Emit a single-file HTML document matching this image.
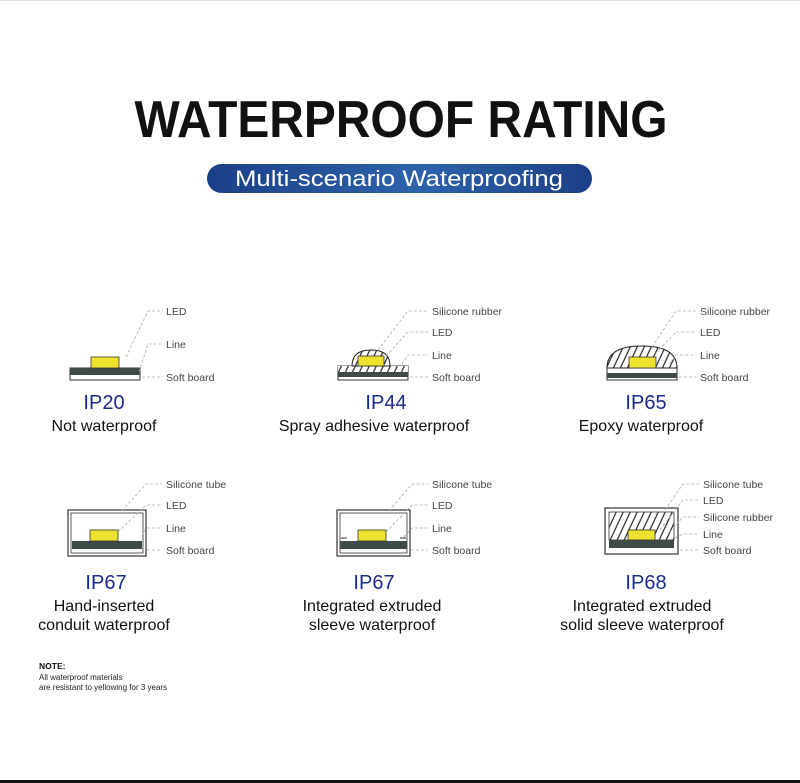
<!DOCTYPE html>
<html><head><meta charset="utf-8"><style>
html,body{margin:0;padding:0;background:#fff}
svg{display:block}
text{font-family:"Liberation Sans",sans-serif}
.l{font-size:10.5px;fill:#444}
.d{stroke:#aaa;stroke-width:0.8;stroke-dasharray:3,2;fill:none}
.ip{font-size:20px;fill:#1b2a8e;text-anchor:middle}
.ds{font-size:16px;fill:#111;text-anchor:middle}
</style></head><body>
<svg width="800" height="783" viewBox="0 0 800 783" xmlns="http://www.w3.org/2000/svg">
<defs>
<linearGradient id="g" x1="0" x2="1">
<stop offset="0" stop-color="#1c3f86"/><stop offset="0.55" stop-color="#2d63ab"/><stop offset="1" stop-color="#1c3f86"/>
</linearGradient>
<pattern id="h" width="7" height="14" patternUnits="userSpaceOnUse" patternTransform="skewX(-25)">
<rect width="7" height="14" fill="#fff"/><line x1="1" y1="0" x2="1" y2="14" stroke="#222" stroke-width="1.3"/>
</pattern>
</defs>
<line x1="0" y1="0.5" x2="800" y2="0.5" stroke="#ddd"/>
<rect x="0" y="780" width="800" height="3" fill="#111"/>
<text x="401" y="137" text-anchor="middle" font-size="52" font-weight="bold" fill="#111" textLength="533" lengthAdjust="spacingAndGlyphs">WATERPROOF RATING</text>
<rect x="207" y="164" width="385" height="29" rx="14.5" fill="url(#g)"/>
<text x="399" y="186" text-anchor="middle" font-size="22" fill="#fff" textLength="328" lengthAdjust="spacingAndGlyphs">Multi-scenario Waterproofing</text>

<!-- IP20 -->
<rect x="70" y="368" width="70" height="12" fill="#fff" stroke="#333"/>
<rect x="70" y="368" width="70" height="7" fill="#3f4b49"/>
<rect x="91" y="357" width="28" height="11" fill="#ede32e" stroke="#333" stroke-width="0.8"/>
<path class="d" d="M126 357 L148 311 L163 311 M139 372 L148 344 L163 344 M142 377 L163 377"/>
<text class="l" x="166" y="315">LED</text><text class="l" x="166" y="348">Line</text><text class="l" x="166" y="381">Soft board</text>
<text class="ip" x="104" y="409">IP20</text><text class="ds" x="104" y="431">Not waterproof</text>

<!-- IP44 -->
<rect x="338" y="366" width="70" height="14" fill="#fff" stroke="#333"/>
<rect x="338" y="366" width="70" height="6" fill="url(#h)"/>
<rect x="338" y="372" width="70" height="5" fill="#3f4b49"/>
<path d="M352 366 Q352 350 371 350 Q390 350 390 366 Z" fill="url(#h)" stroke="#222"/>
<rect x="358" y="356" width="26" height="10" fill="#ede32e" stroke="#333" stroke-width="0.8"/>
<path class="d" d="M378 350 L408 311 L428 311 M386 356 L408 332 L428 332 M402 364 L408 355 L428 355 M410 377 L428 377"/>
<text class="l" x="432" y="315">Silicone rubber</text><text class="l" x="432" y="336">LED</text><text class="l" x="432" y="359">Line</text><text class="l" x="432" y="381">Soft board</text>
<text class="ip" x="386" y="409">IP44</text><text class="ds" x="374" y="431">Spray adhesive waterproof</text>

<!-- IP65 -->
<rect x="607" y="368" width="70" height="12" fill="#fff" stroke="#333"/>
<rect x="607" y="373" width="70" height="5" fill="#3f4b49"/>
<path d="M607 368 Q607 346 642 346 Q677 346 677 368 Z" fill="url(#h)" stroke="#222"/>
<rect x="629" y="357" width="27" height="11" fill="#ede32e" stroke="#333" stroke-width="0.8"/>
<path class="d" d="M652 347 L676 311 L696 311 M652 357 L676 332 L696 332 M670 364 L676 355 L696 355 M679 377 L696 377"/>
<text class="l" x="700" y="315">Silicone rubber</text><text class="l" x="700" y="336">LED</text><text class="l" x="700" y="359">Line</text><text class="l" x="700" y="381">Soft board</text>
<text class="ip" x="646" y="409">IP65</text><text class="ds" x="641" y="431">Epoxy waterproof</text>

<!-- IP67 a -->
<rect x="68" y="510" width="78" height="46" fill="#fff" stroke="#333" stroke-width="1.2"/>
<rect x="71" y="513" width="72" height="40" fill="#fff" stroke="#333" stroke-width="0.8"/>
<rect x="72" y="541" width="70" height="8" fill="#3f4b49"/>
<rect x="90" y="530" width="28" height="11" fill="#ede32e" stroke="#333" stroke-width="0.8"/>
<path class="d" d="M122 511 L146 484 L162 484 M118 532 L146 505 L162 505 M142 536 L146 528 L162 528 M147 550 L162 550"/>
<text class="l" x="166" y="488">Silicone tube</text><text class="l" x="166" y="509">LED</text><text class="l" x="166" y="532">Line</text><text class="l" x="166" y="554">Soft board</text>
<text class="ip" x="106" y="589">IP67</text><text class="ds" x="104" y="611">Hand-inserted</text><text class="ds" x="104" y="630">conduit waterproof</text>

<!-- IP67 b -->
<rect x="337" y="510" width="73" height="46" fill="#fff" stroke="#333" stroke-width="1.2"/>
<rect x="340" y="513" width="67" height="40" fill="#fff" stroke="#333" stroke-width="0.8"/>
<rect x="340" y="541" width="67" height="8" fill="#3f4b49"/>
<rect x="358" y="530" width="28" height="11" fill="#ede32e" stroke="#333" stroke-width="0.8"/>
<path d="M341 538 h6 M400 538 h6" stroke="#333"/>
<path class="d" d="M389 511 L412 484 L428 484 M386 532 L412 505 L428 505 M404 537 L412 528 L428 528 M411 550 L428 550"/>
<text class="l" x="432" y="488">Silicone tube</text><text class="l" x="432" y="509">LED</text><text class="l" x="432" y="532">Line</text><text class="l" x="432" y="554">Soft board</text>
<text class="ip" x="374" y="589">IP67</text><text class="ds" x="372" y="611">Integrated extruded</text><text class="ds" x="372" y="630">sleeve waterproof</text>

<!-- IP68 -->
<rect x="605" y="508" width="73" height="46" fill="#fff" stroke="#333" stroke-width="1.2"/>
<rect x="609" y="512" width="65" height="28" fill="url(#h)" stroke="#333" stroke-width="0.8"/>
<rect x="609" y="540" width="65" height="8" fill="#3f4b49"/>
<rect x="628" y="530" width="27" height="10" fill="#ede32e" stroke="#333" stroke-width="0.8"/>
<path class="d" d="M665 510 L683 484 L699 484 M660 530 L683 500 L699 500 M670 532 L683 517 L699 517 M675 538 L683 534 L699 534 M680 550 L699 550"/>
<text class="l" x="703" y="488">Silicone tube</text><text class="l" x="703" y="504">LED</text><text class="l" x="703" y="521">Silicone rubber</text><text class="l" x="703" y="538">Line</text><text class="l" x="703" y="554">Soft board</text>
<text class="ip" x="646" y="589">IP68</text><text class="ds" x="642" y="611">Integrated extruded</text><text class="ds" x="642" y="630">solid sleeve waterproof</text>

<text x="39" y="669" font-size="8.5" font-weight="bold" fill="#111">NOTE:</text>
<text x="39" y="680" font-size="8" fill="#222">All waterproof materials</text>
<text x="39" y="690" font-size="8" fill="#222">are resistant to yellowing for 3 years</text>
</svg>
</body></html>
